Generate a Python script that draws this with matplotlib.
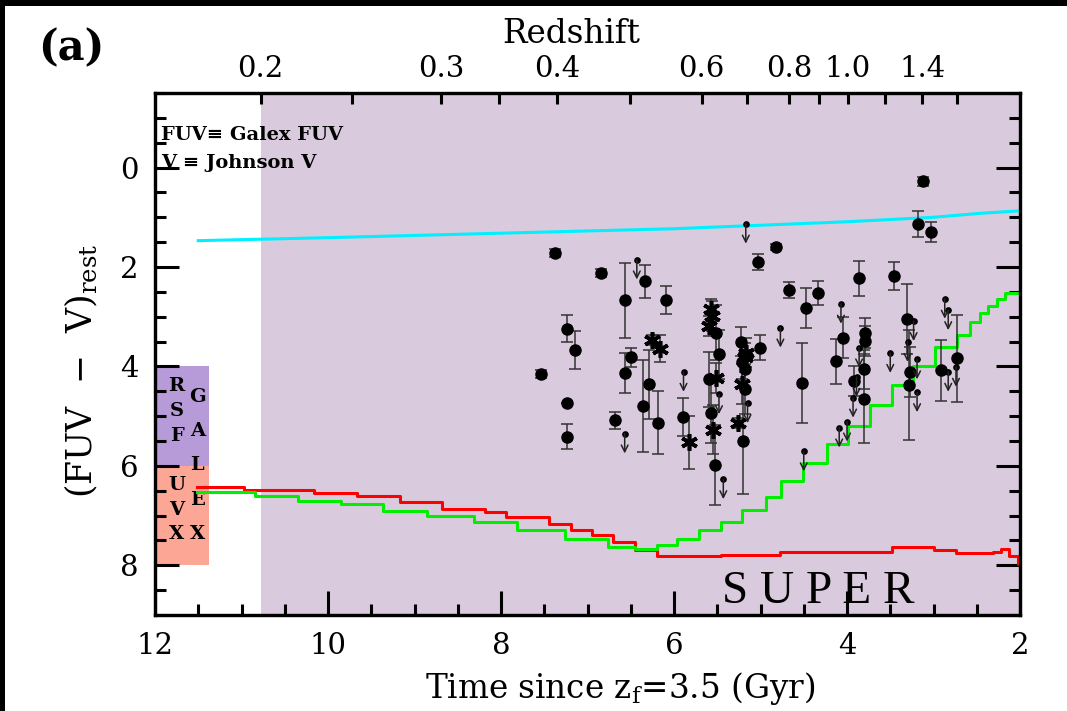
import matplotlib
matplotlib.use("Agg")
import matplotlib.pyplot as plt
from matplotlib.patches import Rectangle
import numpy as np

plt.rcParams['font.family'] = ['DejaVu Serif']
plt.rcParams['mathtext.fontset'] = 'dejavuserif'

# ---------------- data ----------------
# filled circles: time since zf (Gyr), FUV-V, error
circ_t = [7.38, 6.84, 6.57, 6.34, 6.09, 7.24, 7.15, 7.54, 7.24, 7.24, 6.68, 6.57, 6.50,
          6.36, 6.29, 6.18, 5.90, 5.51, 5.48, 5.59, 5.57, 5.53, 5.23, 5.01, 5.21, 5.18,
          5.18, 5.20, 5.03, 4.82, 4.67, 4.47, 4.33, 4.52, 3.86, 3.46, 3.12, 3.18, 3.03,
          4.05, 4.13, 3.79, 3.79, 3.80, 3.92, 3.80, 3.31, 3.27, 3.28, 2.91, 2.73]
circ_y = [1.72, 2.13, 2.67, 2.29, 2.67, 3.24, 3.67, 4.15, 4.73, 5.41, 5.08, 4.13, 3.82,
          4.80, 4.36, 5.13, 5.02, 3.32, 3.76, 4.26, 4.94, 5.98, 3.50, 3.62, 3.91, 4.06,
          4.45, 5.50, 1.90, 1.59, 2.47, 2.83, 2.52, 4.33, 2.23, 2.18, 0.28, 1.13, 1.30,
          3.42, 3.90, 3.32, 3.49, 4.06, 4.30, 4.65, 3.04, 4.11, 4.37, 4.08, 3.84]
circ_e = [0.08, 0.08, 0.75, 0.34, 0.28, 0.27, 0.39, 0.08, 0.00, 0.25, 0.17, 0.40, 0.19,
          0.92, 0.69, 0.63, 0.38, 0.55, 0.50, 0.55, 0.60, 0.80, 0.30, 0.25, 0.35, 0.40,
          0.50, 1.07, 0.17, 0.06, 0.16, 0.40, 0.24, 0.80, 0.35, 0.28, 0.10, 0.26, 0.20,
          0.41, 0.46, 0.30, 0.30, 0.40, 0.30, 0.90, 0.70, 0.50, 1.10, 0.62, 0.87]

# asterisks
ast_t = [6.25, 6.16, 5.83, 5.57, 5.56, 5.60, 5.51, 5.55, 5.17, 5.18, 5.21, 5.26]
ast_y = [3.46, 3.64, 5.53, 2.85, 2.99, 3.19, 4.23, 5.27, 3.72, 3.82, 4.36, 5.13]
ast_e = [0.10, 0.28, 0.54, 0.20, 0.30, 0.20, 0.30, 0.50, 0.30, 0.30, 0.40, 0.10]

# limits (arrows)
lim_t = [6.43, 6.57, 5.89, 5.43, 5.48, 5.15, 5.17, 4.77, 4.07, 3.86, 3.89, 3.93, 4.09,
         4.00, 4.50, 3.30, 3.23, 3.19, 3.19, 2.87, 2.83, 2.83, 2.74, 3.50]
lim_y = [1.85, 5.35, 4.11, 6.27, 4.56, 4.74, 1.13, 3.22, 2.74, 3.62, 4.21, 4.63, 5.23,
         5.11, 5.71, 3.51, 3.09, 3.86, 4.52, 2.64, 2.87, 4.11, 4.01, 3.73]

# model curves
cyan_t = [11.5, 10.0, 8.0, 6.0, 5.0, 4.0, 3.0, 2.46, 2.0]
cyan_y = [1.47, 1.41, 1.32, 1.23, 1.16, 1.09, 1.00, 0.92, 0.87]

red_t = [11.52, 10.97, 10.16, 9.67, 9.17, 8.68, 8.18, 7.94, 7.44, 7.19, 6.95, 6.70,
         6.45, 6.20, 5.46, 4.78, 3.73, 3.48, 2.99, 2.74, 2.31, 2.22, 2.13, 2.02, 2.00]
red_y = [6.43, 6.48, 6.55, 6.60, 6.73, 6.87, 6.92, 7.03, 7.17, 7.30, 7.40, 7.53,
         7.70, 7.81, 7.79, 7.73, 7.73, 7.63, 7.70, 7.75, 7.73, 7.67, 7.81, 7.97, 7.97]

green_t = [11.52, 10.84, 10.35, 9.85, 9.36, 8.86, 8.31, 7.81, 7.26, 6.76, 6.45, 6.20,
           5.96, 5.71, 5.46, 5.21, 4.94, 4.76, 4.51, 4.23, 3.99, 3.73, 3.48, 3.24,
           2.98, 2.73, 2.58, 2.46, 2.37, 2.27, 2.17, 2.00]
green_y = [6.52, 6.61, 6.70, 6.77, 6.90, 7.00, 7.13, 7.30, 7.47, 7.63, 7.67, 7.60,
           7.47, 7.30, 7.12, 6.88, 6.63, 6.30, 5.95, 5.57, 5.19, 4.78, 4.38, 4.00,
           3.60, 3.36, 3.10, 2.93, 2.79, 2.65, 2.52, 2.50]

# redshift axis
z_labels = ['0.2', '0.3', '0.4', '0.6', '0.8', '1.0', '1.4']
z_label_t = [10.78, 8.69, 7.35, 5.68, 4.67, 3.99, 3.13]
z_minor_t = [9.72, 8.02, 6.51, 5.16, 4.32, 3.56, 2.73]

shade_t = [10.78, 2.0]

# ---------------- figure ----------------
fig = plt.figure(figsize=(10.67, 7.11), dpi=100)
ax = fig.add_axes([155/1067, 1-615/711, 865/1067, 522/711])
ax.set_xlim(12, 2)
ax.set_ylim(9, -1.5)

ax.axvspan(shade_t[0], shade_t[1], color='#d9cbdd', zorder=0, lw=0)
ax.add_patch(Rectangle((11.38, 4), 0.62, 2, facecolor='#b79ad8', edgecolor='none', zorder=1))
ax.add_patch(Rectangle((11.38, 6), 0.62, 2, facecolor='#fca696', edgecolor='none', zorder=1))

for s, yy in zip('RSF', [4.40, 4.90, 5.40]):
    ax.text(11.75, yy, s, ha='center', va='center', fontsize=14, fontweight='bold', zorder=2)
for s, yy in zip('UVX', [6.38, 6.88, 7.38]):
    ax.text(11.75, yy, s, ha='center', va='center', fontsize=14, fontweight='bold', zorder=2)
for s, yy in zip('GALEX', [4.62, 5.30, 5.98, 6.68, 7.38]):
    ax.text(11.51, yy, s, ha='center', va='center', fontsize=14, fontweight='bold', zorder=2)

ax.plot(cyan_t, cyan_y, color='#00f0ff', lw=2.2, zorder=3)
ax.plot(red_t, red_y, color='#ff0000', lw=2.2, drawstyle='steps-post', zorder=3)
ax.plot(green_t, green_y, color='#00ee00', lw=2.2, drawstyle='steps-post', zorder=3)

ax.errorbar(circ_t, circ_y, yerr=circ_e, fmt='o', color='black', ms=8,
            ecolor='#333333', elinewidth=1.1, capsize=4, capthick=1.1, zorder=4)
ax.errorbar(ast_t, ast_y, yerr=ast_e, fmt='none', ecolor='#333333',
            elinewidth=1.1, capsize=4, capthick=1.1, zorder=4)
ax.plot(ast_t, ast_y, ls='none', marker=(6, 2, 0), ms=12, mew=2.6, color='black', zorder=5)

ax.plot(lim_t, lim_y, 'o', color='black', ms=3.8, zorder=5)
for tt, yy in zip(lim_t, lim_y):
    ax.annotate('', xy=(tt, yy + 0.40), xytext=(tt, yy),
                arrowprops=dict(arrowstyle='->', lw=1.1, color='#222222',
                                mutation_scale=12, shrinkA=0, shrinkB=0), zorder=5)

ax.text(11.93, -0.65, 'FUV\u2261 Galex FUV', fontsize=14, fontweight='bold',
        va='center', ha='left')
ax.text(11.93, -0.1, 'V \u2261 Johnson V', fontsize=14, fontweight='bold',
        va='center', ha='left')
ax.text(4.33, 8.54, 'S U P E R', fontsize=34, ha='center', va='center',
        family='Liberation Serif')

# axes styling
for sp in ax.spines.values():
    sp.set_linewidth(2.3)
ax.set_xticks([12, 10, 8, 6, 4, 2])
ax.set_xticks(np.arange(2, 12.01, 0.5), minor=True)
ax.set_yticks([0, 2, 4, 6, 8])
ax.set_yticks(np.arange(-1.5, 9.01, 0.5), minor=True)
ax.tick_params(which='both', direction='in', top=False, right=True, width=2.2,
               labelsize=21)
ax.tick_params(which='major', length=17, pad=12)
ax.tick_params(which='minor', length=8)
ax.set_xlabel(r'Time since z$_{\mathrm{f}}$=3.5 (Gyr)', fontsize=23.5)
ax.xaxis.set_label_coords(0.5376, -0.105)
ax.set_ylabel(r'(FUV  $-$  V)$_{\mathrm{rest}}$', fontsize=25)
ax.yaxis.set_label_coords(-0.064, 0.468)

ax2 = ax.twiny()
ax2.set_xlim(ax.get_xlim())
ax2.set_xticks(z_label_t)
ax2.set_xticklabels(z_labels)
ax2.set_xticks(z_minor_t, minor=True)
ax2.tick_params(which='both', direction='in', length=8, width=2.2, labelsize=21, pad=7)
ax2.set_xlabel('Redshift', fontsize=23.5)
ax2.xaxis.set_label_coords(0.481, 1.095)
for sp in ax2.spines.values():
    sp.set_linewidth(2.3)

fig.text(38/1067, 1-48/711, '(a)', fontsize=30, fontweight='bold',
         va='center', ha='left')

fig.patches.append(Rectangle((0, 1-6/711), 1, 6/711, transform=fig.transFigure,
                             facecolor='black', edgecolor='none'))
fig.patches.append(Rectangle((0, 0), 5/1067, 1, transform=fig.transFigure,
                             facecolor='black', edgecolor='none'))

fig.savefig('out.png', dpi=100)
